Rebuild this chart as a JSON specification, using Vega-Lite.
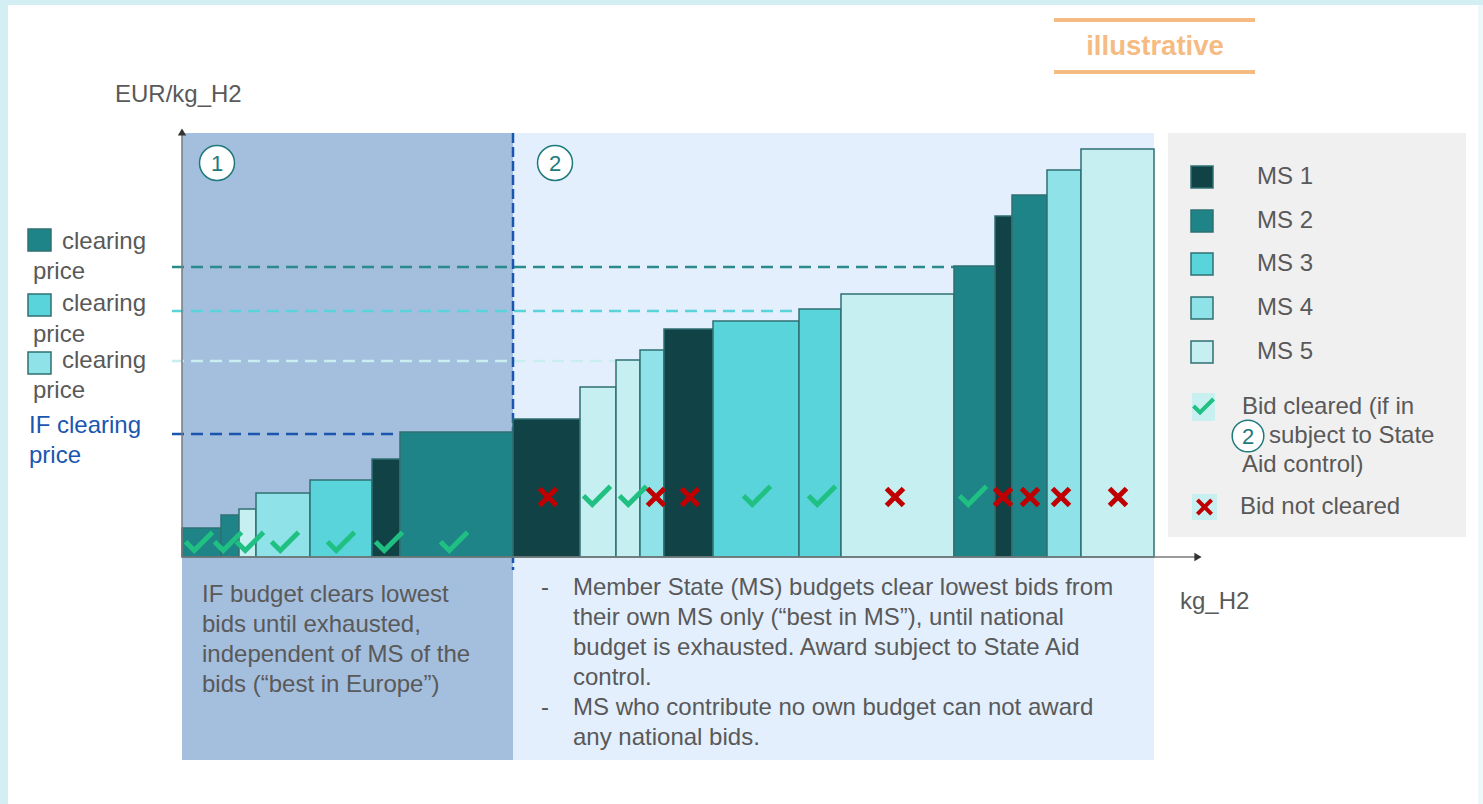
{
  "$schema": "https://vega.github.io/schema/vega-lite/v6.json",
  "width": 1483,
  "height": 804,
  "autosize": {"type": "fit", "contains": "padding"},
  "padding": 0,
  "background": "#d4eff3",
  "config": {"view": {"stroke": null}, "font": "Liberation Sans"},
  "encoding": {
    "x": {"field": "x", "type": "quantitative", "scale": {"domain": [-18.2, 130.1], "nice": false, "zero": false}, "axis": null},
    "y": {"field": "y", "type": "quantitative", "scale": {"domain": [-24.7, 55.7], "nice": false, "zero": false}, "axis": null}
  },
  "datasets": {
    "bids": [
      {"x": 0.0, "x2": 3.9, "y": 2.9, "ms": "MS 2"},
      {"x": 3.9, "x2": 5.7, "y": 4.2, "ms": "MS 2"},
      {"x": 5.7, "x2": 7.4, "y": 4.8, "ms": "MS 5"},
      {"x": 7.4, "x2": 12.8, "y": 6.4, "ms": "MS 4"},
      {"x": 12.8, "x2": 19.0, "y": 7.7, "ms": "MS 3"},
      {"x": 19.0, "x2": 21.8, "y": 9.8, "ms": "MS 1"},
      {"x": 21.8, "x2": 33.1, "y": 12.5, "ms": "MS 2"},
      {"x": 33.1, "x2": 39.8, "y": 13.8, "ms": "MS 1"},
      {"x": 39.8, "x2": 43.4, "y": 17.0, "ms": "MS 5"},
      {"x": 43.4, "x2": 45.8, "y": 19.7, "ms": "MS 5"},
      {"x": 45.8, "x2": 48.2, "y": 20.7, "ms": "MS 4"},
      {"x": 48.2, "x2": 53.1, "y": 22.8, "ms": "MS 1"},
      {"x": 53.1, "x2": 61.7, "y": 23.6, "ms": "MS 3"},
      {"x": 61.7, "x2": 65.9, "y": 24.8, "ms": "MS 3"},
      {"x": 65.9, "x2": 77.2, "y": 26.3, "ms": "MS 5"},
      {"x": 77.2, "x2": 81.3, "y": 29.1, "ms": "MS 2"},
      {"x": 81.3, "x2": 83.0, "y": 34.1, "ms": "MS 1"},
      {"x": 83.0, "x2": 86.5, "y": 36.2, "ms": "MS 2"},
      {"x": 86.5, "x2": 89.9, "y": 38.7, "ms": "MS 4"},
      {"x": 89.9, "x2": 97.2, "y": 40.8, "ms": "MS 5"}
    ],
    "outcomes": [
      {"x": 1.7, "y": 1.4, "cleared": "yes"},
      {"x": 4.6, "y": 1.4, "cleared": "yes"},
      {"x": 6.8, "y": 1.4, "cleared": "yes"},
      {"x": 10.3, "y": 1.4, "cleared": "yes"},
      {"x": 15.9, "y": 1.4, "cleared": "yes"},
      {"x": 20.7, "y": 1.4, "cleared": "yes"},
      {"x": 27.2, "y": 1.4, "cleared": "yes"},
      {"x": 36.6, "y": 6.0, "cleared": "no"},
      {"x": 41.5, "y": 6.0, "cleared": "yes"},
      {"x": 45.1, "y": 6.0, "cleared": "yes"},
      {"x": 47.4, "y": 6.0, "cleared": "no"},
      {"x": 50.8, "y": 6.0, "cleared": "no"},
      {"x": 57.5, "y": 6.0, "cleared": "yes"},
      {"x": 64.0, "y": 6.0, "cleared": "yes"},
      {"x": 71.3, "y": 6.0, "cleared": "no"},
      {"x": 79.1, "y": 6.0, "cleared": "yes"},
      {"x": 82.1, "y": 6.0, "cleared": "no"},
      {"x": 84.8, "y": 6.0, "cleared": "no"},
      {"x": 87.9, "y": 6.0, "cleared": "no"},
      {"x": 93.6, "y": 6.0, "cleared": "no"}
    ],
    "legendKeys": [
      {"x": 100.9, "x2": 103.1, "y": 39.1, "y2": 36.9, "ms": "MS 1"},
      {"x": 100.9, "x2": 103.1, "y": 34.7, "y2": 32.5, "ms": "MS 2"},
      {"x": 100.9, "x2": 103.1, "y": 30.4, "y2": 28.2, "ms": "MS 3"},
      {"x": 100.9, "x2": 103.1, "y": 26.0, "y2": 23.8, "ms": "MS 4"},
      {"x": 100.9, "x2": 103.1, "y": 21.6, "y2": 19.4, "ms": "MS 5"},
      {"x": -15.4, "x2": -13.1, "y": 32.8, "y2": 30.6, "ms": "MS 2"},
      {"x": -15.4, "x2": -13.1, "y": 26.3, "y2": 24.1, "ms": "MS 3"},
      {"x": -15.4, "x2": -13.1, "y": 20.5, "y2": 18.3, "ms": "MS 4"}
    ],
    "greyText": [
      {"x": -6.7, "y": 46.2, "text": "EUR/kg_H2"},
      {"x": 99.8, "y": -4.5, "text": "kg_H2"},
      {"x": -12.0, "y": 31.5, "text": "clearing"},
      {"x": -14.9, "y": 28.5, "text": "price"},
      {"x": -12.0, "y": 25.3, "text": "clearing"},
      {"x": -14.9, "y": 22.2, "text": "price"},
      {"x": -12.0, "y": 19.6, "text": "clearing"},
      {"x": -14.9, "y": 16.6, "text": "price"},
      {"x": 2.0, "y": -3.8, "text": "IF budget clears lowest"},
      {"x": 2.0, "y": -6.8, "text": "bids until exhausted,"},
      {"x": 2.0, "y": -9.8, "text": "independent of MS of the"},
      {"x": 2.0, "y": -12.8, "text": "bids (“best in Europe”)"},
      {"x": 35.9, "y": -3.1, "text": "-"},
      {"x": 39.1, "y": -3.1, "text": "Member State (MS) budgets clear lowest bids from"},
      {"x": 39.1, "y": -6.1, "text": "their own MS only (“best in MS”), until national"},
      {"x": 39.1, "y": -9.1, "text": "budget is exhausted. Award subject to State Aid"},
      {"x": 39.1, "y": -12.1, "text": "control."},
      {"x": 35.9, "y": -15.1, "text": "-"},
      {"x": 39.1, "y": -15.1, "text": "MS who contribute no own budget can not award"},
      {"x": 39.1, "y": -18.1, "text": "any national bids."},
      {"x": 107.5, "y": 38.0, "text": "MS 1"},
      {"x": 107.5, "y": 33.6, "text": "MS 2"},
      {"x": 107.5, "y": 29.3, "text": "MS 3"},
      {"x": 107.5, "y": 24.9, "text": "MS 4"},
      {"x": 107.5, "y": 20.5, "text": "MS 5"},
      {"x": 106.0, "y": 15.0, "text": "Bid cleared (if in"},
      {"x": 108.7, "y": 12.1, "text": "subject to State"},
      {"x": 106.0, "y": 9.2, "text": "Aid control)"},
      {"x": 105.8, "y": 5.0, "text": "Bid not cleared"}
    ],
    "steps": [
      {"x": 3.5, "y": 39.4, "text": "1", "size": "big"},
      {"x": 37.3, "y": 39.4, "text": "2", "size": "big"},
      {"x": 106.6, "y": 12.1, "text": "2", "size": "small"}
    ]
  },
  "layer": [
    {
      "data": {"values": [{"x": -17.4, "x2": 129.6, "y": 55.2, "y2": -24.7}]},
      "mark": {"type": "rect", "fill": "#ffffff"},
      "encoding": {"x2": {"field": "x2"}, "y2": {"field": "y2"}}
    },
    {
      "data": {"values": [{"x": 129.6, "x2": 130.1, "y": 55.2, "y2": -24.7}]},
      "mark": {"type": "rect", "fill": "#edf8fa"},
      "encoding": {"x2": {"field": "x2"}, "y2": {"field": "y2"}}
    },
    {
      "data": {"values": [{"x": 0, "x2": 33.1, "y": 42.4, "y2": -20.3}]},
      "mark": {"type": "rect", "fill": "#a4bedd"},
      "encoding": {"x2": {"field": "x2"}, "y2": {"field": "y2"}}
    },
    {
      "data": {"values": [{"x": 33.1, "x2": 97.2, "y": 42.4, "y2": -20.3}]},
      "mark": {"type": "rect", "fill": "#e3effd"},
      "encoding": {"x2": {"field": "x2"}, "y2": {"field": "y2"}}
    },
    {
      "data": {"values": [{"x": 98.6, "x2": 128.4, "y": 42.4, "y2": 2.0}]},
      "mark": {"type": "rect", "fill": "#f0f0f0"},
      "encoding": {"x2": {"field": "x2"}, "y2": {"field": "y2"}}
    },
    {
      "data": {"values": [
        {"x": 101.0, "x2": 103.3, "y": 16.4, "y2": 13.6},
        {"x": 101.0, "x2": 103.5, "y": 6.3, "y2": 3.7}
      ]},
      "mark": {"type": "rect", "fill": "#c8f0f1"},
      "encoding": {"x2": {"field": "x2"}, "y2": {"field": "y2"}}
    },
    {
      "data": {"values": [{"x": -1.0, "x2": 77.2, "y": 29.0}]},
      "mark": {"type": "rule", "stroke": "#2a8a8c", "strokeWidth": 2.5, "strokeDash": [12, 7]},
      "encoding": {"x2": {"field": "x2"}}
    },
    {
      "data": {"values": [{"x": -1.0, "x2": 61.7, "y": 24.6}]},
      "mark": {"type": "rule", "stroke": "#5ad3da", "strokeWidth": 2.5, "strokeDash": [12, 7]},
      "encoding": {"x2": {"field": "x2"}}
    },
    {
      "data": {"values": [{"x": -1.0, "x2": 43.4, "y": 19.6}]},
      "mark": {"type": "rule", "stroke": "#c9eef0", "strokeWidth": 2.5, "strokeDash": [12, 7]},
      "encoding": {"x2": {"field": "x2"}}
    },
    {
      "data": {"values": [{"x": -1.0, "x2": 33.1, "y": 12.3}]},
      "mark": {"type": "rule", "stroke": "#1a56b0", "strokeWidth": 2.5, "strokeDash": [12, 7]},
      "encoding": {"x2": {"field": "x2"}}
    },
    {
      "data": {"values": [{"x": 33.1, "y": 42.4, "y2": -1.3}]},
      "mark": {"type": "rule", "stroke": "#1a56b0", "strokeWidth": 2.5, "strokeDash": [10, 4]},
      "encoding": {"y2": {"field": "y2"}}
    },
    {
      "data": {"name": "bids"},
      "mark": {"type": "rect", "stroke": "#2f7073", "strokeWidth": 1.5},
      "encoding": {
        "x2": {"field": "x2"},
        "y2": {"datum": 0},
        "color": {"field": "ms", "type": "nominal", "legend": null,
          "scale": {"domain": ["MS 1", "MS 2", "MS 3", "MS 4", "MS 5"], "range": ["#114245", "#1e8488", "#58d4da", "#8fe2e7", "#c5eff0"]}}
      }
    },
    {
      "data": {"name": "legendKeys"},
      "mark": {"type": "rect", "stroke": "#2f7073", "strokeWidth": 1.5},
      "encoding": {
        "x2": {"field": "x2"},
        "y2": {"field": "y2"},
        "color": {"field": "ms", "type": "nominal", "legend": null}
      }
    },
    {
      "data": {"values": [{"x": 0, "y": 0, "y2": 42.6}]},
      "mark": {"type": "rule", "stroke": "#7a7a7a", "strokeWidth": 1.5},
      "encoding": {"y2": {"field": "y2"}}
    },
    {
      "data": {"values": [{"x": 0, "x2": 101.6, "y": 0}]},
      "mark": {"type": "rule", "stroke": "#7a7a7a", "strokeWidth": 1.5},
      "encoding": {"x2": {"field": "x2"}}
    },
    {
      "data": {"values": [{"x": 0, "y": 42.5}]},
      "mark": {"type": "point", "shape": "triangle-up", "filled": true, "color": "#333333", "size": 70, "opacity": 1}
    },
    {
      "data": {"values": [{"x": 101.6, "y": 0}]},
      "mark": {"type": "point", "shape": "triangle-right", "filled": true, "color": "#333333", "size": 70, "opacity": 1}
    },
    {
      "data": {"name": "outcomes"},
      "transform": [{"filter": "datum.cleared == 'yes'"}],
      "mark": {"type": "point", "shape": "M-1,-0.1L-0.35,0.55L1,-0.8", "filled": false, "stroke": "#20c082", "strokeWidth": 5, "strokeJoin": "miter", "size": 729, "opacity": 1}
    },
    {
      "data": {"name": "outcomes"},
      "transform": [{"filter": "datum.cleared == 'no'"}],
      "mark": {"type": "point", "shape": "M-1,-1L1,1M-1,1L1,-1", "filled": false, "stroke": "#c00000", "strokeWidth": 5, "size": 289, "opacity": 1}
    },
    {
      "data": {"values": [{"x": 102.15, "y": 15.0}]},
      "mark": {"type": "point", "shape": "M-1,-0.1L-0.35,0.55L1,-0.8", "filled": false, "stroke": "#20c082", "strokeWidth": 4, "size": 400, "opacity": 1}
    },
    {
      "data": {"values": [{"x": 102.25, "y": 5.0}]},
      "mark": {"type": "point", "shape": "M-1,-1L1,1M-1,1L1,-1", "filled": false, "stroke": "#c00000", "strokeWidth": 4, "size": 200, "opacity": 1}
    },
    {
      "data": {"name": "steps"},
      "transform": [{"filter": "datum.size == 'big'"}],
      "mark": {"type": "point", "shape": "circle", "filled": true, "fill": "#ffffff", "stroke": "#1e7a7c", "strokeWidth": 1.5, "size": 1225, "opacity": 1}
    },
    {
      "data": {"name": "steps"},
      "transform": [{"filter": "datum.size == 'small'"}],
      "mark": {"type": "point", "shape": "circle", "filled": true, "fill": "#ffffff", "stroke": "#1e7a7c", "strokeWidth": 1.5, "size": 1000, "opacity": 1}
    },
    {
      "data": {"name": "steps"},
      "mark": {"type": "text", "align": "center", "baseline": "middle", "fontSize": 22, "color": "#1e7a7c", "dy": 1},
      "encoding": {"text": {"field": "text"}}
    },
    {
      "data": {"name": "greyText"},
      "mark": {"type": "text", "align": "left", "baseline": "middle", "fontSize": 24, "color": "#595959"},
      "encoding": {"text": {"field": "text"}}
    },
    {
      "data": {"values": [
        {"x": -15.3, "y": 13.1, "text": "IF clearing"},
        {"x": -15.3, "y": 10.1, "text": "price"}
      ]},
      "mark": {"type": "text", "align": "left", "baseline": "middle", "fontSize": 24, "color": "#1a56b0"},
      "encoding": {"text": {"field": "text"}}
    },
    {
      "data": {"values": [
        {"x": 87.2, "x2": 107.3, "y": 53.7},
        {"x": 87.2, "x2": 107.3, "y": 48.5}
      ]},
      "mark": {"type": "rule", "stroke": "#f6bb82", "strokeWidth": 4},
      "encoding": {"x2": {"field": "x2"}}
    },
    {
      "data": {"values": [{"x": 97.3, "y": 51.0, "text": "illustrative"}]},
      "mark": {"type": "text", "align": "center", "baseline": "middle", "fontSize": 27.5, "fontWeight": "bold", "color": "#f6bb82"},
      "encoding": {"text": {"field": "text"}}
    }
  ]
}
